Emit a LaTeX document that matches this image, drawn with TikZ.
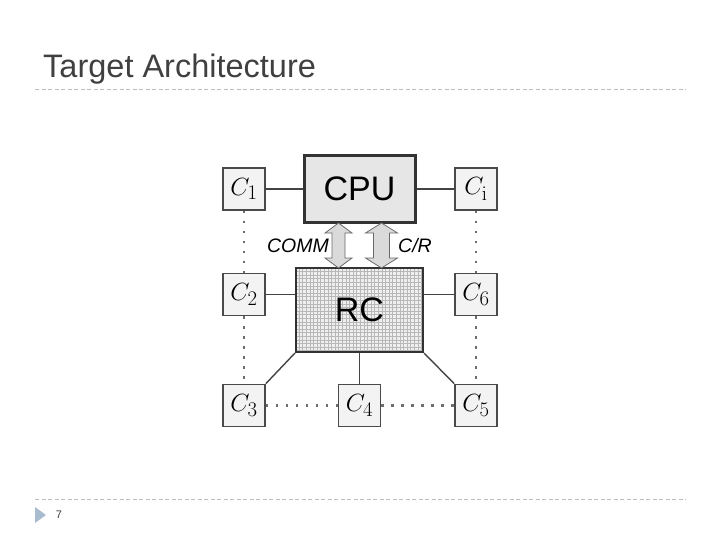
\documentclass[tikz,border=0pt]{standalone}
\usepackage[no-math]{fontspec}
\setmainfont{Liberation Sans}
\usetikzlibrary{calc}

\definecolor{boxfill}{HTML}{F3F3F3}
\definecolor{boxedge}{HTML}{4A4A4A}
\definecolor{cpufill}{HTML}{E6E6E6}
\definecolor{rcfill}{HTML}{EFEFEF}
\definecolor{wirec}{HTML}{444444}
\definecolor{dotc}{HTML}{6E6E6E}
\definecolor{busfill}{HTML}{DADADA}
\definecolor{busedge}{HTML}{6A6A6A}
\definecolor{meshc}{HTML}{B8B8B8}
\definecolor{rulec}{HTML}{BDBDBD}
\definecolor{titlec}{HTML}{404040}
\definecolor{bulletc}{HTML}{A9BBCF}

% double headed bus arrow: x, shaft half width, head half width
\newcommand\busarrow[3]{%
  \draw[bus] (#1,223) -- (#1+#3,233) -- (#1+#2,233) -- (#1+#2,258)
    -- (#1+#3,258) -- (#1,268) -- (#1-#3,258) -- (#1-#2,258)
    -- (#1-#2,233) -- (#1-#3,233) -- cycle;}

\begin{document}
\begin{tikzpicture}[x=1pt,y=-1pt,
  cbox/.style={draw=boxedge, fill=boxfill, line width=1.6pt, minimum size=42pt,
    inner sep=0pt, font=\fontsize{28}{28}\selectfont},
  wire/.style={draw=wirec, line width=1.4pt},
  dots/.style={draw=dotc, line width=2.4pt, dash pattern=on 2.5pt off 7.5pt},
  bus/.style={draw=busedge, fill=busfill, line width=0.8pt},
  rulebar/.style={draw=rulec, line width=0.8pt, dash pattern=on 4pt off 2.5pt}]
\useasboundingbox (0,0) rectangle (720,540);

% slide frame
\node[anchor=base west, text=titlec, font=\fontsize{32.5}{32.5}\selectfont, inner sep=0pt]
  (title) at (43,78) {Target Architecture};
\coordinate (topl) at (35,89.5);
\coordinate (topr) at (686,89.5);
\coordinate (botl) at (35,499.5);
\coordinate (botr) at (686,499.5);
\draw[rulebar] (topl) -- (topr);
\draw[rulebar] (botl) -- (botr);
\fill[bulletc] (35,507) -- (46,515) -- (35,523) -- cycle;
\node[text=titlec, font=\fontsize{11}{11}\selectfont, inner sep=0pt] (page) at (59,515) {7};

% processors
\node[draw=black!80, fill=cpufill, line width=3pt, minimum width=111pt, minimum height=67pt,
  inner sep=0pt, font=\fontsize{34}{34}\selectfont] (cpu) at (359.5,189) {CPU};
\node[draw=black!80, fill=rcfill, line width=2pt, minimum width=127pt, minimum height=84pt,
  inner sep=0pt, font=\fontsize{34}{34}\selectfont,
  path picture={\draw[meshc, line width=0.4pt, step=3.6pt]
    (path picture bounding box.south west) grid (path picture bounding box.north east);}]
  (rc) at (359.5,310) {RC};

% cores
\node[cbox] (c1) at (244,189) {$C_1$};
\node[cbox] (ci) at (476,189) {$C_{\mathrm{i}}$};
\node[cbox] (c2) at (244,294.5) {$C_2$};
\node[cbox] (c6) at (476,294.5) {$C_6$};
\node[cbox] (c3) at (244,405.5) {$C_3$};
\node[cbox] (c4) at (359.5,405.5) {$C_4$};
\node[cbox] (c5) at (476,405.5) {$C_5$};

% links
\draw[wire] (c1) -- (cpu);
\draw[wire] (ci) -- (cpu);
\draw[wire] (c2.east) -- (c2.east -| rc.west);
\draw[wire] (c6.west) -- (c6.west -| rc.east);
\draw[wire] (rc) -- (c4);
\draw[wire] (rc.south west) -- (c3.north east);
\draw[wire] (rc.south east) -- (c5.north west);

\draw[dots] (c1) -- (c2);
\draw[dots] (c2) -- (c3);
\draw[dots] (ci) -- (c6);
\draw[dots] (c6) -- (c5);
\draw[dots] (c3) -- (c4);
\draw[dots] (c4) -- (c5);

% buses
\busarrow{338.5}{6.5}{13.5}
\busarrow{381.5}{8}{16}
\node[anchor=east, font=\fontsize{19.5}{19.5}\selectfont\itshape, inner sep=0pt] (comm) at (329,246) {COMM};
\node[anchor=west, font=\fontsize{19.5}{19.5}\selectfont\itshape, inner sep=0pt] (cr) at (398,246) {C/R};
\end{tikzpicture}
\end{document}
